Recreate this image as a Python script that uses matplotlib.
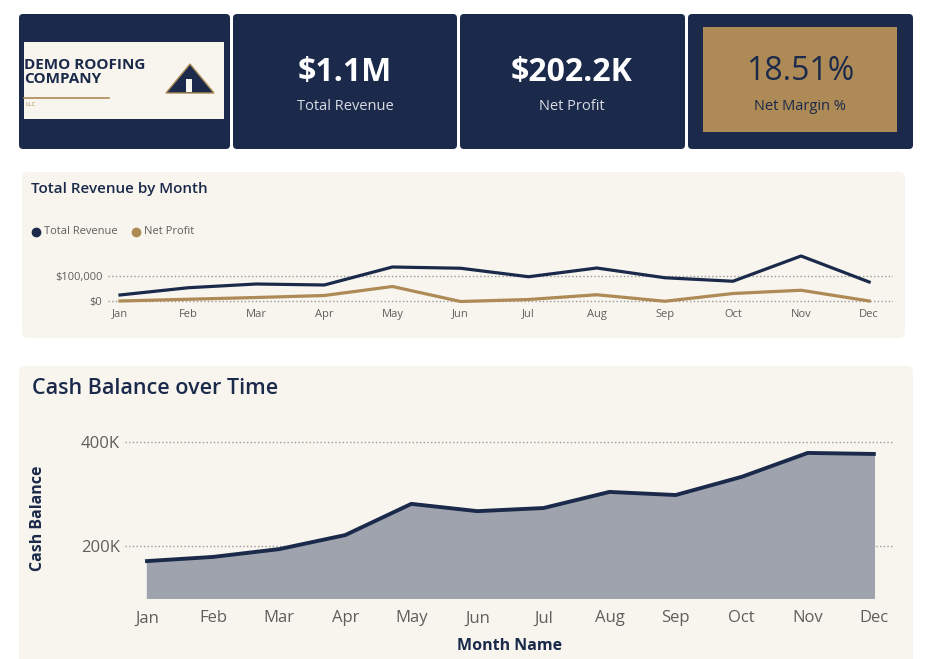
import matplotlib
matplotlib.use("Agg")
import matplotlib.pyplot as plt
from matplotlib.patches import FancyBboxPatch, Rectangle, Polygon
from matplotlib.ticker import FuncFormatter

plt.rcParams['font.family'] = ['Open Sans', 'DejaVu Sans']

months = ["Jan","Feb","Mar","Apr","May","Jun","Jul","Aug","Sep","Oct","Nov","Dec"]
revenue = [24000,53000,68000,64000,136000,131000,97000,132000,93000,79000,180000,76000]
profit = [0,7000,14000,22000,58000,-2000,6000,25000,-1000,30000,43000,0]
cash = [171000,179000,194000,221000,281000,267000,273000,304000,298000,333000,379000,377000]
kpi_values = ["$1.1M", "$202.2K", "18.51%"]
kpi_labels = ["Total Revenue", "Net Profit", "Net Margin %"]

NAVY = "#1b2a4a"; GOLD = "#ad8a56"; CREAM = "#f8f5ef"; GREY = "#605e5c"
W, H = 928, 659
fig = plt.figure(figsize=(W/100, H/100), dpi=100, facecolor="white")
bg = fig.add_axes([0, 0, 1, 1]); bg.set_xlim(0, W); bg.set_ylim(H, 0); bg.axis("off")

def box(x0, y0, x1, y1, color, r=4):
    bg.add_patch(FancyBboxPatch((x0+r, y0+r), x1-x0-2*r, y1-y0-2*r,
                 boxstyle=f"round,pad={r}", fc=color, ec="none"))

# KPI cards
for (x0, x1) in [(19, 230), (233, 457), (460, 685), (688, 913)]:
    box(x0, 14, x1, 149, NAVY)
bg.add_patch(Rectangle((703, 27), 194, 105, fc=GOLD, ec="none"))
for i, cx in enumerate([345, 572, 800]):
    col = NAVY if i == 2 else "white"
    bg.text(cx, 72, kpi_values[i], ha="center", va="center", fontsize=23, color=col, fontweight="bold" if i < 2 else "normal")
    bg.text(cx, 106, kpi_labels[i], ha="center", va="center", fontsize=10.5, color=(NAVY if i == 2 else "#d8dbe2"))
# logo
bg.add_patch(Rectangle((24, 42), 200, 77, fc=CREAM, ec="none"))
bg.text(24, 72, "DEMO ROOFING\nCOMPANY", ha="left", va="center", fontsize=11, fontweight="bold", color=NAVY, linespacing=0.95)
bg.plot([24, 109], [98, 98], color=GOLD, lw=1.2)
bg.text(25, 104, "LLC", fontsize=4.5, color=GOLD, va="center")
bg.add_patch(Polygon([[166, 93], [190, 64], [214, 93]], closed=True, fc=NAVY, ec=GOLD, lw=1))
bg.add_patch(Rectangle((186, 79), 6, 13, fc=CREAM, ec="none"))

# panels
box(22, 172, 905, 338, CREAM, r=6)
box(19, 366, 913, 670, CREAM, r=6)
bg.text(31, 189, "Total Revenue by Month", fontsize=11, color=NAVY, va="center", fontweight="semibold")
bg.plot([36], [232], "o", color=NAVY, ms=6)
bg.text(44, 232, "Total Revenue", fontsize=8, color=GREY, va="center")
bg.plot([136], [232], "o", color=GOLD, ms=6)
bg.text(144, 232, "Net Profit", fontsize=8, color=GREY, va="center")
bg.text(32, 389, "Cash Balance over Time", fontsize=15.5, color=NAVY, va="center", fontweight="semibold")

def px_axes(x0, y0, x1, y1):
    return fig.add_axes([x0/W, 1-y1/H, (x1-x0)/W, (y1-y0)/H])

# top line chart
ax = px_axes(108, 250, 893, 303)
ax.set_facecolor("none")
x = list(range(12))
ax.plot(x, revenue, color=NAVY, lw=2.3)
ax.plot(x, profit, color=GOLD, lw=2.3)
ax.set_xlim(-0.176, 11.35); ax.set_ylim(-8000, 204000)
ax.set_yticks([0, 100000])
ax.yaxis.set_major_formatter(FuncFormatter(lambda v, p: f"${v:,.0f}"))
ax.set_xticks(x); ax.set_xticklabels(months)
ax.tick_params(length=0, labelsize=8, colors=GREY, pad=4)
ax.grid(axis="y", ls=":", color="#999999", lw=1)
for s in ax.spines.values(): s.set_visible(False)

# area chart
ax2 = px_axes(125, 420, 893, 598)
ax2.set_facecolor("none")
ax2.fill_between(x, cash, 100000, color="#9ea3ae")
ax2.plot(x, cash, color=NAVY, lw=2.8)
ax2.set_xlim(-0.333, 11.29); ax2.set_ylim(100000, 442300)
ax2.set_yticks([200000, 400000])
ax2.yaxis.set_major_formatter(FuncFormatter(lambda v, p: f"{v/1000:.0f}K"))
ax2.set_xticks(x); ax2.set_xticklabels(months)
ax2.tick_params(length=0, labelsize=12, colors=GREY)
ax2.tick_params(axis="x", pad=9)
ax2.grid(axis="y", ls=":", color="#999999", lw=1)
ax2.set_axisbelow(True)
for s in ax2.spines.values(): s.set_visible(False)
bg.text(38, 518, "Cash Balance", rotation=90, fontsize=11.5, fontweight="bold", color=NAVY, ha="center", va="center")
bg.text(510, 646, "Month Name", fontsize=11.5, fontweight="bold", color=NAVY, ha="center", va="center")

fig.savefig("out.png", dpi=100, facecolor="white")
